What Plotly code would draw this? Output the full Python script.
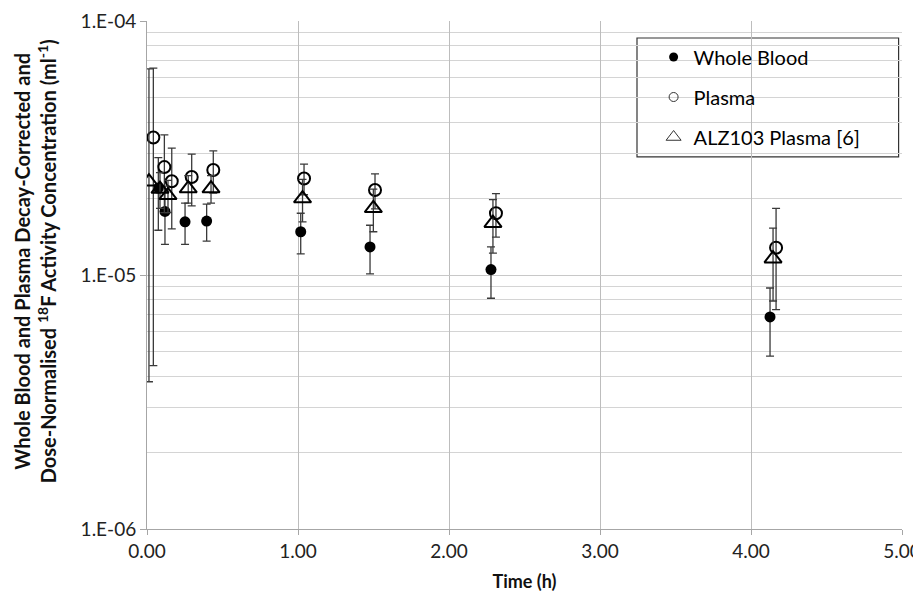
import plotly.graph_objects as go

# ---- data ----
wb_t = [0.075, 0.119, 0.252, 0.395, 1.018, 1.477, 2.278, 4.126]
wb_v = [2.20e-5, 1.78e-5, 1.62e-5, 1.63e-5, 1.48e-5, 1.29e-5, 1.05e-5, 6.84e-6]
wb_err = [0.70e-5, 0.46e-5, 0.30e-5, 0.27e-5, 0.27e-5, 0.28e-5, 0.24e-5, 0.205e-5]

pl_t = [0.042, 0.115, 0.164, 0.296, 0.439, 1.040, 1.510, 2.311, 4.166]
pl_v = [3.48e-5, 2.66e-5, 2.34e-5, 2.43e-5, 2.59e-5, 2.40e-5, 2.16e-5, 1.75e-5, 1.28e-5]
pl_err = [3.04e-5, 0.90e-5, 0.82e-5, 0.56e-5, 0.49e-5, 0.33e-5, 0.34e-5, 0.34e-5, 0.55e-5]

alz_t = [0.013, 0.086, 0.139, 0.273, 0.424, 1.030, 1.499, 2.291, 4.146]
alz_v = [2.33e-5, 2.18e-5, 2.06e-5, 2.19e-5, 2.19e-5, 2.00e-5, 1.83e-5, 1.60e-5, 1.16e-5]
alz_err_plus = [4.15e-5, 0.35e-5, 0.30e-5, 0.27e-5, 0.27e-5, 0.38e-5, 0.35e-5, 0.38e-5, 0.37e-5]
alz_err_minus = [1.95e-5, 0.35e-5, 0.30e-5, 0.27e-5, 0.27e-5, 0.38e-5, 0.35e-5, 0.38e-5, 0.37e-5]

series_names = ["Whole Blood", "Plasma", "ALZ103 Plasma [6]"]

y_major = [1e-6, 1e-5, 1e-4]
y_major_text = ["1.E-06", "1.E-05", "1.E-04"]
y_minor = [m * d for d in (1e-6, 1e-5) for m in range(2, 10)]

y_title = ("<b>Whole Blood and Plasma Decay-Corrected and<br>"
           "Dose-Normalised <sup>18</sup>F Activity Concentration (ml<sup>-1</sup>)</b>")
x_title = "<b>Time (h)</b>"

FONT = "Lato"
ERR_COLOR = "#3a3a3a"

fig = go.Figure()

fig.add_trace(go.Scatter(
    x=wb_t, y=wb_v, mode="markers", name=series_names[0], showlegend=False,
    marker=dict(symbol="circle", size=11, color="black"),
    error_y=dict(type="data", array=wb_err, color=ERR_COLOR, thickness=1.3, width=4),
))
fig.add_trace(go.Scatter(
    x=pl_t, y=pl_v, mode="markers", name=series_names[1], showlegend=False,
    marker=dict(symbol="circle-open", size=12, color="black", line=dict(width=2)),
    error_y=dict(type="data", array=pl_err, color=ERR_COLOR, thickness=1.3, width=4),
))
fig.add_trace(go.Scatter(
    x=alz_t, y=alz_v, mode="markers", name=series_names[2], showlegend=False,
    marker=dict(symbol="triangle-up-open", size=15, color="black", line=dict(width=2)),
    error_y=dict(type="data", symmetric=False, array=alz_err_plus, arrayminus=alz_err_minus,
                 color=ERR_COLOR, thickness=1.3, width=4),
))

# legend-only entries with the small symbols used in the reference legend
legend_markers = [
    dict(symbol="circle", size=9, color="black"),
    dict(symbol="circle-open", size=9, color="#333333", line=dict(width=1)),
    dict(symbol="triangle-up-open", size=13, color="#333333", line=dict(width=1)),
]
for i, (nm, mk) in enumerate(zip(series_names, legend_markers)):
    fig.add_trace(go.Scatter(
        x=[None], y=[None], mode="markers", name=nm, marker=mk,
        legendgroup=f"g{i}", showlegend=True,
    ))

# page body adds an 8px offset; size/margins compensate so the plot area
# lands at the reference position (x 147..902, y 21..529 in the window)
fig.update_layout(
    width=913, height=584,
    margin=dict(l=139, r=19, t=13, b=63),
    paper_bgcolor="white", plot_bgcolor="white",
    font=dict(family=FONT, size=18, color="#222222"),
    showlegend=True,
    legend=dict(
        x=0.671, y=0.9675, xanchor="left", yanchor="top",
        bgcolor="rgba(0,0,0,0)", borderwidth=0,
        font=dict(family=FONT, size=20, color="black"),
        tracegroupgap=11, traceorder="grouped",
        itemsizing="trace", itemwidth=30,
    ),
    shapes=[dict(type="rect", xref="paper", yref="paper",
                 x0=0.649, x1=0.9955, y0=0.7325, y1=0.9665,
                 line=dict(color="#333333", width=1.2), fillcolor="white", layer="below")],
    annotations=[dict(text=y_title, textangle=-90, xref="paper", yref="paper",
                      x=-0.148, y=0.5276, xanchor="center", yanchor="middle",
                      showarrow=False, align="center",
                      font=dict(family=FONT, size=20, color="#111111"))],
)

fig.update_xaxes(
    range=[0, 5], dtick=1, tickformat=".2f", automargin=False,
    ticklabeloverflow="allow",
    showgrid=True, gridcolor="#bdbdbd", gridwidth=1,
    showline=True, linecolor="#a6a6a6", linewidth=1,
    ticks="outside", ticklen=5, tickcolor="#a6a6a6",
    zeroline=False,
    tickfont=dict(family=FONT, size=19, color="#222222"),
    title=dict(text=x_title, font=dict(family=FONT, size=18, color="#111111"), standoff=14),
)
fig.update_yaxes(
    type="log", range=[-6, -4], automargin=False,
    ticklabeloverflow="allow",
    tickmode="array", tickvals=y_major, ticktext=y_major_text,
    showgrid=True, gridcolor="#c8c8c8", gridwidth=1,
    showline=True, linecolor="#a6a6a6", linewidth=1,
    ticks="outside", ticklen=6, tickcolor="#a6a6a6",
    tickfont=dict(family=FONT, size=19, color="#222222"),
    minor=dict(tickmode="array", tickvals=y_minor, showgrid=True, gridcolor="#d4d4d4", ticks=""),
)

fig.write_html("out.html")
